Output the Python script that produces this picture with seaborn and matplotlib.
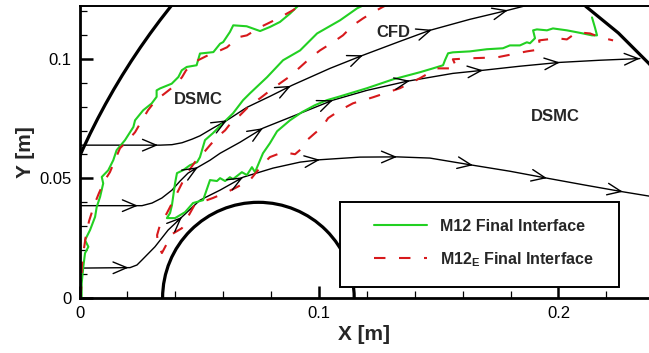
import numpy as np
import matplotlib
matplotlib.use('Agg')
import matplotlib.pyplot as plt
import matplotlib.patches as mpatches
from matplotlib.ticker import MultipleLocator, FuncFormatter
import seaborn as sns

# ---------------- data [m] ----------------
# streamlines
s1_x = [0.0, 0.0336, 0.0386, 0.0428, 0.0470, 0.0503, 0.0557, 0.0616, 0.0699, 0.0795,
        0.0887, 0.1046, 0.1184, 0.1338, 0.1463, 0.1630, 0.1789, 0.1902]
s1_y = [0.0639, 0.0639, 0.0641, 0.0649, 0.0664, 0.0678, 0.0710, 0.0743, 0.0797, 0.0843,
        0.0889, 0.0960, 0.1015, 0.1073, 0.1119, 0.1165, 0.1203, 0.1232]
s1_arrows = [0.0328, 0.0616, 0.0883, 0.1184, 0.1472, 0.1789]

s2_x = [0.0, 0.0261, 0.0303, 0.0344, 0.0386, 0.0420, 0.0453, 0.0495, 0.0545, 0.0587, 0.0670,
        0.0766, 0.0921, 0.1058, 0.1200, 0.1367, 0.1559, 0.1685, 0.1839, 0.2006, 0.2173, 0.2340]
s2_y = [0.0386, 0.0386, 0.0397, 0.0418, 0.0451, 0.0489, 0.0522, 0.0547, 0.0576, 0.0605, 0.0651,
        0.0710, 0.0772, 0.0827, 0.0868, 0.0906, 0.0939, 0.0952, 0.0969, 0.0985, 0.0994, 0.1001]
s2_arrows = [0.0244, 0.0495, 0.0766, 0.1058, 0.1380, 0.1685, 0.2006, 0.2340]

s3_x = [0.0, 0.0211, 0.0240, 0.0261, 0.0315, 0.0370, 0.0428, 0.0503, 0.0587, 0.0683, 0.0808,
        0.0921, 0.1004, 0.1171, 0.1326, 0.1463, 0.1643, 0.1797, 0.1952, 0.2111, 0.2269, 0.2403]
s3_y = [0.0125, 0.0127, 0.0138, 0.0159, 0.0214, 0.0284, 0.0339, 0.0409, 0.0451, 0.0505, 0.0543,
        0.0568, 0.0578, 0.0589, 0.0590, 0.0585, 0.0555, 0.0530, 0.0501, 0.0472, 0.0444, 0.0422]
s3_arrows = [0.0205, 0.0428, 0.0683, 0.1004, 0.1326, 0.1643, 0.1952, 0.2269]

# outer boundary: left part is a large circular arc, right part a short piece
outer_center = (0.2608, -0.0563)
outer_radius = 0.2852
outer_right_x = [0.2113, 0.2250, 0.2378, 0.2400]
outer_right_y = [0.1220, 0.1108, 0.0980, 0.0955]
# body
body_center = (0.0747, 0.0)
body_radius = 0.0400

# M12 final interface (green)
g_left_x = [0.0009, 0.0009, 0.0016, 0.0023, 0.0037, 0.0023, 0.0044, 0.0065, 0.0072, 0.0086,
            0.0099, 0.0093, 0.0120, 0.0141, 0.0155, 0.0190, 0.0225, 0.0232, 0.0266, 0.0301,
            0.0322, 0.0322, 0.0336, 0.0385, 0.0413, 0.0427, 0.0448, 0.0489, 0.0503, 0.0559,
            0.0587, 0.0600, 0.0628, 0.0642, 0.0698, 0.0726, 0.0754, 0.0795, 0.0837, 0.0879,
            0.0907, 0.0921]
g_left_y = [0.0005, 0.0061, 0.0131, 0.0187, 0.0214, 0.0242, 0.0284, 0.0339, 0.0381, 0.0423,
            0.0479, 0.0506, 0.0534, 0.0576, 0.0618, 0.0660, 0.0715, 0.0743, 0.0785, 0.0813,
            0.0841, 0.0868, 0.0876, 0.0896, 0.0924, 0.0952, 0.0966, 0.0973, 0.1022, 0.1028,
            0.1063, 0.1070, 0.1112, 0.1140, 0.1136, 0.1126, 0.1116, 0.1133, 0.1154, 0.1189,
            0.1216, 0.1228]

g_mid_x = [0.1184, 0.1159, 0.1088, 0.0992, 0.0921, 0.0850, 0.0783, 0.0712, 0.0683, 0.0641,
           0.0599, 0.0557, 0.0524, 0.0503, 0.0491, 0.0461, 0.0432, 0.0407, 0.0399, 0.0386,
           0.0378, 0.0365, 0.0399, 0.0441, 0.0474, 0.0516, 0.0545, 0.0574, 0.0587, 0.0608,
           0.0628, 0.0641, 0.0678, 0.0699, 0.0720, 0.0733, 0.0745, 0.0766, 0.0795, 0.0825,
           0.0879, 0.0929, 0.0983, 0.1033, 0.1088, 0.1200, 0.1309, 0.1422, 0.1476, 0.1518,
           0.1526, 0.1539, 0.1559, 0.1630, 0.1701, 0.1768, 0.1797, 0.1839, 0.1868, 0.1881,
           0.1902, 0.1894, 0.1910, 0.1952, 0.1977, 0.2035, 0.2077, 0.2102, 0.2140, 0.2161,
           0.2152, 0.2140]
g_mid_y = [0.1223, 0.1211, 0.1161, 0.1106, 0.1035, 0.0994, 0.0923, 0.0856, 0.0827, 0.0772,
           0.0731, 0.0689, 0.0660, 0.0589, 0.0568, 0.0555, 0.0534, 0.0522, 0.0480, 0.0388,
           0.0355, 0.0334, 0.0334, 0.0359, 0.0397, 0.0409, 0.0493, 0.0489, 0.0501, 0.0489,
           0.0505, 0.0497, 0.0526, 0.0514, 0.0547, 0.0526, 0.0555, 0.0605, 0.0647, 0.0697,
           0.0743, 0.0777, 0.0806, 0.0827, 0.0843, 0.0877, 0.0914, 0.0944, 0.0960, 0.0973,
           0.0994, 0.1023, 0.1027, 0.1031, 0.1040, 0.1044, 0.1056, 0.1056, 0.1069, 0.1065,
           0.1086, 0.1119, 0.1123, 0.1119, 0.1127, 0.1119, 0.1111, 0.1106, 0.1098, 0.1098,
           0.1132, 0.1173]

# M12_E final interface (red dashed)
r_left_x = [0.0004, 0.0008, 0.0010, 0.0019, 0.0027, 0.0040, 0.0061, 0.0081, 0.0106, 0.0127,
            0.0148, 0.0169, 0.0203, 0.0232, 0.0261, 0.0286, 0.0319, 0.0357, 0.0399, 0.0428,
            0.0445, 0.0470, 0.0495, 0.0545, 0.0587, 0.0616, 0.0662, 0.0699, 0.0754, 0.0795,
            0.0837, 0.0891, 0.0929]
r_left_y = [0.0000, 0.0054, 0.0134, 0.0209, 0.0263, 0.0322, 0.0388, 0.0438, 0.0493, 0.0526,
            0.0576, 0.0626, 0.0660, 0.0693, 0.0743, 0.0785, 0.0827, 0.0856, 0.0889, 0.0923,
            0.0952, 0.0973, 0.0994, 0.1019, 0.1035, 0.1048, 0.1090, 0.1098, 0.1132, 0.1152,
            0.1173, 0.1203, 0.1228]

r_mid_x = [0.1288, 0.1263, 0.1225, 0.1184, 0.1142, 0.1100, 0.1058, 0.1004, 0.0962, 0.0921,
           0.0879, 0.0808, 0.0754, 0.0712, 0.0670, 0.0641, 0.0608, 0.0574, 0.0545, 0.0503,
           0.0482, 0.0449, 0.0428, 0.0403, 0.0382, 0.0365, 0.0336, 0.0324, 0.0328, 0.0344,
           0.0386, 0.0428, 0.0457, 0.0482, 0.0532, 0.0557, 0.0616, 0.0649, 0.0712, 0.0762,
           0.0795, 0.0850, 0.0900, 0.0929, 0.0950, 0.0983, 0.1013, 0.1038, 0.1088, 0.1142,
           0.1225, 0.1338, 0.1422, 0.1493, 0.1576, 0.1559, 0.1630, 0.1743, 0.1868, 0.1927,
           0.1919, 0.1994, 0.2035, 0.2077, 0.2132, 0.2173, 0.2228]
r_mid_y = [0.1228, 0.1215, 0.1194, 0.1169, 0.1140, 0.1098, 0.1069, 0.1035, 0.1002, 0.0965,
           0.0927, 0.0877, 0.0835, 0.0806, 0.0764, 0.0743, 0.0701, 0.0672, 0.0639, 0.0589,
           0.0568, 0.0522, 0.0480, 0.0430, 0.0388, 0.0355, 0.0305, 0.0263, 0.0221, 0.0188,
           0.0267, 0.0292, 0.0347, 0.0392, 0.0409, 0.0418, 0.0443, 0.0459, 0.0493, 0.0555,
           0.0589, 0.0610, 0.0601, 0.0626, 0.0660, 0.0689, 0.0714, 0.0752, 0.0785, 0.0814,
           0.0839, 0.0877, 0.0919, 0.0960, 0.0960, 0.0998, 0.1002, 0.1006, 0.1031, 0.1040,
           0.1077, 0.1086, 0.1081, 0.1111, 0.1106, 0.1090, 0.1077]

labels = ['M12 Final Interface', r'M12$_{\mathbf{E}}$ Final Interface']

# ---------------- style ----------------
sns.set_theme(style='ticks')
plt.rcParams['font.family'] = ['Liberation Sans', 'DejaVu Sans']
plt.rcParams['mathtext.fontset'] = 'custom'
plt.rcParams['mathtext.rm'] = 'Liberation Sans:bold'
plt.rcParams['mathtext.bf'] = 'Liberation Sans:bold'

fig = plt.figure(figsize=(6.49, 3.53), dpi=100)
ax = fig.add_axes([79.5 / 649, 55 / 353, 569.5 / 649, 292.3 / 353])


def streamline(xs, ys, arrow_x):
    sns.lineplot(x=xs, y=ys, sort=False, estimator=None, color='black', lw=1.0, ax=ax)
    for xa in arrow_x:
        ya = np.interp(xa, xs, ys)
        xb = xa - 0.002
        yb = np.interp(xb, xs, ys)
        ax.annotate('', xy=(xa, ya), xytext=(xb, yb),
                    arrowprops=dict(arrowstyle='->,head_length=0.9,head_width=0.38',
                                    lw=1.0, color='black', shrinkA=0, shrinkB=0,
                                    mutation_scale=11))


streamline(s1_x, s1_y, s1_arrows)
streamline(s2_x, s2_y, s2_arrows)
streamline(s3_x, s3_y, s3_arrows)

# geometry
ax.add_patch(mpatches.Circle(outer_center, outer_radius, fill=False, ec='black', lw=2.3))
sns.lineplot(x=outer_right_x, y=outer_right_y, sort=False, estimator=None, color='black', lw=2.3, ax=ax)
ax.add_patch(mpatches.Circle(body_center, body_radius, fill=False, ec='black', lw=2.3))

# interfaces
green = '#22d022'
red = '#d7191c'
sns.lineplot(x=g_left_x, y=g_left_y, sort=False, estimator=None, color=green, lw=1.5, ax=ax)
g_handle = ax.lines[-1]
sns.lineplot(x=g_mid_x, y=g_mid_y, sort=False, estimator=None, color=green, lw=1.5, ax=ax)
sns.lineplot(x=r_left_x, y=r_left_y, sort=False, estimator=None, color=red, lw=1.5,
             ls=(0, (5.5, 6.5)), ax=ax)
r_handle = ax.lines[-1]
sns.lineplot(x=r_mid_x, y=r_mid_y, sort=False, estimator=None, color=red, lw=1.5,
             ls=(0, (5.5, 6.5)), ax=ax)

# region labels
ax.text(0.0495, 0.0831, 'DSMC', ha='center', va='center', fontsize=12, fontweight='bold')
ax.text(0.1985, 0.0758, 'DSMC', ha='center', va='center', fontsize=12, fontweight='bold')
ax.text(0.1309, 0.1111, 'CFD', ha='center', va='center', fontsize=12, fontweight='bold')

# legend with a plain square frame
ax.add_patch(mpatches.Rectangle((0.4574, 0.0376), 0.4899, 0.2908, transform=ax.transAxes,
                                fc='white', ec='black', lw=1.4, zorder=4))
leg = ax.legend(handles=[g_handle, r_handle], labels=labels, loc='upper left',
                bbox_to_anchor=(0.503, 0.298), frameon=False, borderpad=0,
                handlelength=3.3, handletextpad=0.85, labelspacing=1.0,
                prop={'weight': 'bold', 'size': 11.5})
leg.set_zorder(5)

# axes
ax.set_xlim(0, 0.2378)
ax.set_ylim(0, 0.1222)
ax.xaxis.set_major_locator(MultipleLocator(0.1))
ax.xaxis.set_minor_locator(MultipleLocator(0.02))
ax.yaxis.set_major_locator(MultipleLocator(0.05))
ax.yaxis.set_minor_locator(MultipleLocator(0.01))
fmt = FuncFormatter(lambda v, p: f'{v:g}')
ax.xaxis.set_major_formatter(fmt)
ax.yaxis.set_major_formatter(fmt)
ax.tick_params(which='both', direction='in', top=False, right=False, colors='black',
               labelsize=12, pad=6)
ax.tick_params(which='major', length=9, width=1.8)
ax.tick_params(which='minor', length=5, width=0.9)
for side in ['left', 'bottom']:
    ax.spines[side].set_linewidth(2.0)
    ax.spines[side].set_color('black')
ax.spines['top'].set_linewidth(1.4)
ax.spines['top'].set_color('black')
ax.spines['right'].set_visible(False)

ax.set_xlabel('X [m]', fontsize=15, fontweight='bold', labelpad=3)
ax.set_ylabel('Y [m]', fontsize=15, fontweight='bold', labelpad=3)

plt.savefig('out.png', dpi=100)
